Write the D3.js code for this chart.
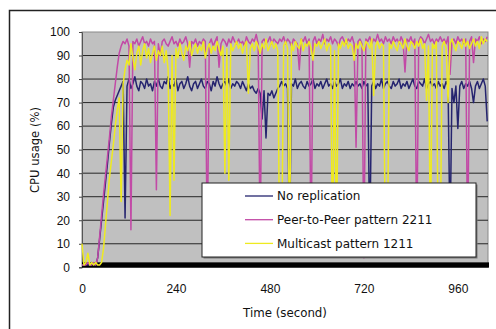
<!DOCTYPE html>
<html>
<head>
<meta charset="utf-8">
<script src="https://cdn.jsdelivr.net/npm/d3@7"></script>
<style>
  html, body { margin: 0; padding: 0; background: #fff; }
  svg { display: block; }
</style>
</head>
<body>
<svg id="chart" width="496" height="329"></svg>
<script>
// Sampling interval of the CPU monitor, seconds
const sampleSeconds = 5;

const seriesNames = ["No replication", "Peer-to-Peer pattern 2211", "Multicast pattern 1211"];
const xTicks = [0, 240, 480, 720, 960];
const yTicks = [0, 10, 20, 30, 40, 50, 60, 70, 80, 90, 100];

// CPU usage (%) per sample, one row per 100 seconds
const noReplication = [
  1, 1, 2, 1, 1, 2, 1, 1, 4, 12, 20, 28, 36, 44, 53, 61, 68, 71, 73, 75,
  77, 79, 21, 77, 80, 76, 78, 81, 77, 75, 79, 78, 76, 80, 77, 78, 75, 79, 77, 80,
  77, 76, 79, 78, 81, 76, 78, 77, 80, 75, 78, 79, 76, 78, 81, 77, 75, 78, 79, 76,
  78, 80, 77, 76, 79, 78, 75, 79, 77, 81, 78, 76, 78, 79, 77, 80, 76, 78, 77, 79,
  78, 76, 79, 77, 75, 78, 76, 77, 75, 74, 76, 74, 63, 75, 55, 74, 73, 75, 72, 74,
  76, 77, 79, 77, 78, 76, 8, 78, 77, 80, 76, 78, 79, 77, 76, 79, 77, 78, 80, 76,
  78, 77, 79, 76, 78, 80, 77, 78, 76, 79, 77, 78, 80, 76, 78, 77, 79, 76, 78, 77,
  79, 77, 78, 76, 79, 77, 78, 10, 77, 79, 76, 78, 77, 80, 76, 78, 79, 77, 76, 79,
  77, 78, 80, 76, 78, 77, 79, 76, 78, 80, 77, 76, 79, 78, 77, 80, 76, 78, 79, 77,
  78, 76, 79, 77, 78, 76, 79, 77, 12, 76, 70, 77, 59, 77, 79, 76, 78, 77, 79, 76,
  70, 77, 79, 76, 78, 80, 77, 62
];

const peerToPeer = [
  1, 1, 1, 2, 1, 1, 2, 1, 4, 13, 22, 31, 39, 47, 55, 64, 71, 78, 85, 91,
  94, 96, 95, 97, 94, 16, 96, 95, 97, 94, 96, 98, 95, 96, 94, 97, 95, 96, 33, 95,
  90, 96, 97, 95, 94, 96, 98, 95, 96, 94, 97, 95, 96, 98, 95, 85, 96, 95, 97, 94,
  96, 95, 97, 96, 5, 95, 97, 94, 96, 98, 85, 95, 97, 96, 94, 97, 95, 98, 96, 95,
  97, 95, 96, 94, 98, 96, 95, 97, 96, 99, 95, 8, 96, 97, 95, 96, 98, 95, 97, 96,
  95, 97, 96, 98, 95, 97, 96, 94, 97, 96, 95, 84, 97, 96, 98, 95, 97, 6, 96, 98,
  95, 97, 96, 99, 95, 97, 96, 98, 95, 97, 96, 94, 97, 98, 96, 95, 97, 96, 98, 95,
  51, 96, 97, 95, 4, 97, 96, 98, 95, 97, 96, 99, 96, 97, 95, 98, 96, 97, 95, 98,
  96, 97, 95, 98, 96, 83, 97, 96, 98, 95, 97, 7, 96, 98, 97, 95, 97, 99, 96, 97,
  95, 97, 96, 98, 96, 97, 95, 98, 82, 96, 97, 95, 98, 96, 97, 95, 97, 6, 96, 98,
  87, 97, 96, 98, 95, 97, 96, 98
];

const multicast = [
  10, 1, 2, 6, 1, 2, 1, 2, 1, 1, 2, 8, 18, 28, 38, 45, 52, 60, 67, 72,
  28, 78, 84, 88, 86, 95, 89, 84, 91, 94, 86, 92, 95, 89, 93, 87, 91, 94, 88, 92,
  90, 94, 87, 92, 84, 22, 90, 37, 93, 89, 95, 91, 88, 94, 92, 96, 90, 93, 95, 91,
  94, 92, 96, 89, 93, 95, 91, 94, 92, 96, 93, 90, 94, 40, 93, 37, 95, 92, 94, 96,
  93, 95, 91, 94, 96, 74, 93, 95, 92, 96, 94, 91, 95, 93, 97, 92, 94, 96, 93, 95,
  92, 5, 6, 94, 96, 93, 7, 95, 92, 96, 94, 93, 97, 92, 95, 94, 96, 93, 88, 95,
  94, 96, 93, 95, 97, 92, 95, 94, 5, 92, 6, 95, 93, 96, 94, 97, 93, 95, 94, 88,
  95, 93, 96, 94, 92, 96, 95, 93, 97, 73, 94, 96, 93, 95, 94, 5, 6, 95, 93, 96,
  94, 92, 96, 95, 93, 97, 94, 92, 96, 95, 93, 96, 94, 97, 93, 95, 71, 94, 8, 95,
  93, 96, 6, 6, 94, 96, 93, 70, 95, 97, 94, 92, 96, 95, 93, 97, 94, 96, 93, 95,
  97, 94, 96, 93, 98, 95, 97, 96
];

const seriesValues = [noReplication, peerToPeer, multicast];
const seriesColors = ["#25246f", "#c24aa6", "#eeea20"];

const svg = d3.select("#chart");

// outer chart frame (runs past the right and bottom edges)
svg.append("rect")
  .attr("x", 9.5).attr("y", 10.5)
  .attr("width", 600).attr("height", 400)
  .attr("fill", "#fff").attr("stroke", "#222").attr("stroke-width", 1.5);

const x = d3.scaleLinear().domain([0, 1037]).range([82, 488]);
const y = d3.scaleLinear().domain([0, 100]).range([267.3, 32]);

// plot area
svg.append("rect")
  .attr("x", x(0)).attr("y", y(100))
  .attr("width", x(1037) - x(0)).attr("height", y(0) - y(100))
  .attr("fill", "#c0c0c0").attr("stroke", "#8a8a8a").attr("stroke-width", 1);

// horizontal gridlines
svg.append("g").selectAll("line")
  .data(yTicks.filter(d => d > 0 && d < 100))
  .join("line")
  .attr("x1", x(0)).attr("x2", x(1037))
  .attr("y1", d => y(d)).attr("y2", d => y(d))
  .attr("stroke", "#262626").attr("stroke-width", 1);

// y axis
const yAxis = d3.axisLeft(y).tickValues(yTicks).tickSize(3).tickPadding(9);
const gy = svg.append("g").attr("transform", `translate(${x(0)},0)`).call(yAxis);
gy.select(".domain").attr("stroke", "#555");
gy.selectAll(".tick line").attr("stroke", "#444");
gy.selectAll(".tick text")
  .attr("font-family", "'Liberation Sans', Arial, sans-serif")
  .attr("font-size", 12).attr("fill", "#111");

// x axis labels
const xAxis = d3.axisBottom(x).tickValues(xTicks).tickSize(0).tickPadding(17);
const gx = svg.append("g").attr("transform", `translate(0,${y(0)})`).call(xAxis);
gx.select(".domain").remove();
gx.selectAll(".tick text")
  .attr("font-family", "'Liberation Sans', Arial, sans-serif")
  .attr("font-size", 12).attr("fill", "#111");

// heavy baseline along 0
svg.append("rect")
  .attr("x", x(0)).attr("y", y(2.1))
  .attr("width", x(1037) - x(0) + 1).attr("height", y(0) - y(2.1) + 0.3)
  .attr("fill", "#000");

// series lines
const line = d3.line()
  .x((d, i) => x(i * sampleSeconds))
  .y(d => y(d));

svg.append("g").selectAll("path")
  .data(seriesValues)
  .join("path")
  .attr("d", d => line(d))
  .attr("fill", "none")
  .attr("stroke", (d, i) => seriesColors[i])
  .attr("stroke-width", 1.5)
  .attr("stroke-linejoin", "round");

// axis titles
svg.append("text")
  .attr("x", 285).attr("y", 316.5)
  .attr("text-anchor", "middle")
  .attr("font-family", "'DejaVu Sans', sans-serif")
  .attr("font-size", 11.8).attr("fill", "#111")
  .text("Time (second)");

svg.append("text")
  .attr("transform", "translate(39,150) rotate(-90)")
  .attr("text-anchor", "middle")
  .attr("font-family", "'DejaVu Sans', sans-serif")
  .attr("font-size", 11.6).attr("fill", "#111")
  .text("CPU usage (%)");

// legend
const legend = svg.append("g");
legend.append("rect")
  .attr("x", 203.5).attr("y", 184.5).attr("width", 274).attr("height", 74)
  .attr("fill", "#777");
legend.append("rect")
  .attr("x", 202).attr("y", 183).attr("width", 274).attr("height", 74)
  .attr("fill", "#fff").attr("stroke", "#222").attr("stroke-width", 1);

const rows = legend.selectAll("g.row")
  .data(seriesNames)
  .join("g")
  .attr("class", "row")
  .attr("transform", (d, i) => `translate(0,${196 + i * 23.7})`);

rows.append("line")
  .attr("x1", 245).attr("x2", 273)
  .attr("y1", 0).attr("y2", 0)
  .attr("stroke", (d, i) => seriesColors[i])
  .attr("stroke-width", 1.3);

rows.append("text")
  .attr("x", 277).attr("y", 4.2)
  .attr("font-family", "'DejaVu Sans', sans-serif")
  .attr("font-size", 12).attr("fill", "#111")
  .text(d => d);
</script>
</body>
</html>
